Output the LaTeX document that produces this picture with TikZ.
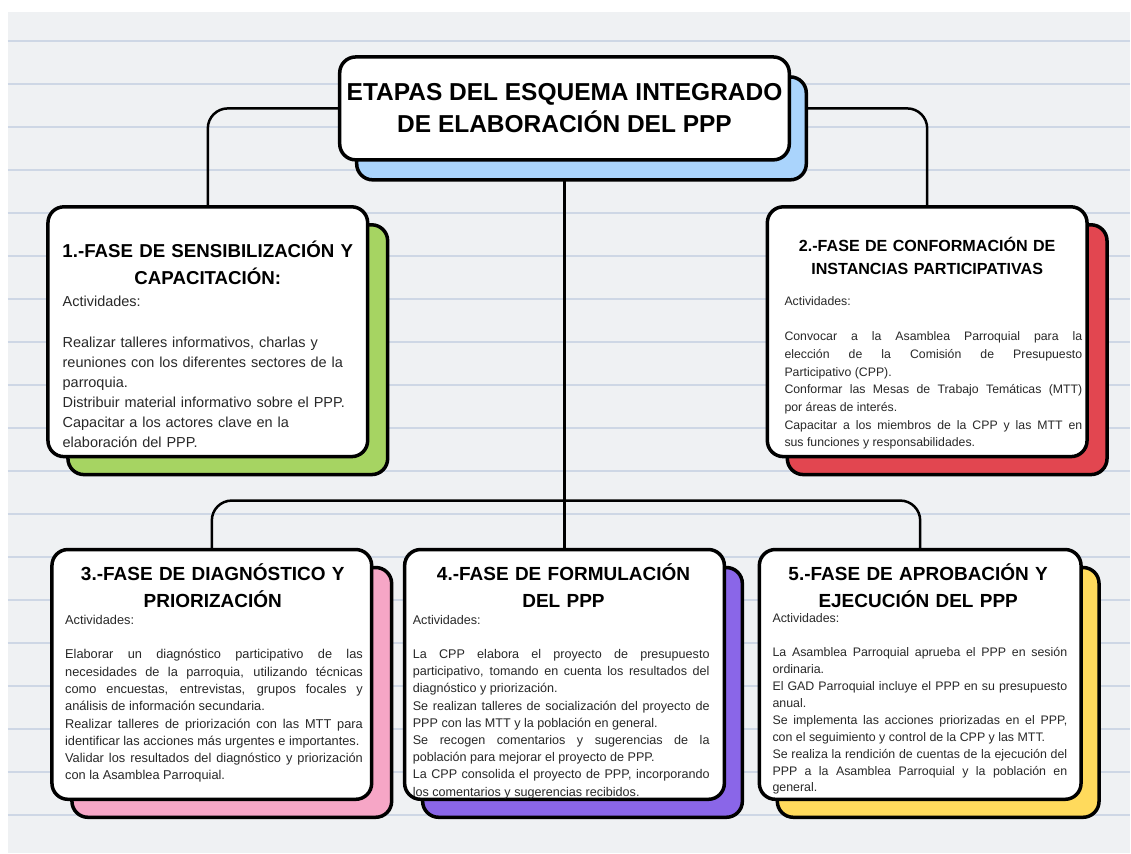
\documentclass[tikz,border=0pt]{standalone}
\usepackage{fontspec}
\setmainfont{Liberation Sans}
\usetikzlibrary{backgrounds}
\hyphenpenalty=10000
\exhyphenpenalty=10000
\tolerance=10000

\definecolor{paper}{RGB}{239,241,243}
\definecolor{ruling}{RGB}{206,215,229}
\definecolor{shblue}{RGB}{170,212,252}
\definecolor{shgreen}{RGB}{166,212,98}
\definecolor{shred}{RGB}{226,70,80}
\definecolor{shpink}{RGB}{246,166,198}
\definecolor{shpurple}{RGB}{138,102,232}
\definecolor{shyellow}{RGB}{255,218,92}
\definecolor{ink}{RGB}{40,40,40}

\begin{document}
\begin{tikzpicture}[x=1pt,y=-1pt,
  card/.style={draw=black,line width=3.5pt,rounded corners=16pt,fill=white,inner sep=0pt,minimum width=320pt,minimum height=250pt},
  back/.style={card,fill=#1},
  link/.style={draw=black,line width=2.5pt,rounded corners=20pt},
  head/.style={align=center,text width=312pt,inner sep=0pt,font=\bfseries\fontsize{19}{27}\selectfont},
  body/.style={anchor=north west,inner sep=0pt,text=ink,align=justify,text width=298pt,font=\fontsize{12.6}{17.2}\selectfont},
]

% paper
\begin{scope}[on background layer]
\fill[white] (0,0) rectangle (1131,854);
\fill[paper] (8,12) rectangle (1131,854);
\foreach \k in {0,...,18}
  \draw[ruling,line width=2pt] (8,{41.5+43*\k}) -- (1131,{41.5+43*\k});
\end{scope}

% title
\node[back=shblue,minimum width=450pt,minimum height=103pt] at (582,128.5) {};
\node[card,minimum width=450pt,minimum height=103pt,align=center,
  font=\bfseries\fontsize{24.5}{32}\selectfont] (title) at (565,108.5)
  {ETAPAS DEL ESQUEMA INTEGRADO\\DE ELABORACIÓN DEL PPP};

% phase cards
\node[back=shgreen] at (228,350) {};
\node[card] (b1) at (208,332) {};
\node[back=shred] at (948,350) {};
\node[card] (b2) at (928,332) {};
\node[back=shpink] at (232,693) {};
\node[card] (b3) at (212,675) {};
\node[back=shpurple] at (583,693) {};
\node[card] (b4) at (565,675) {};
\node[back=shyellow,minimum width=322pt] at (939,693) {};
\node[card,minimum width=322pt] (b5) at (921,675) {};

% connectors
\coordinate (bus) at (565,501);
\begin{scope}[on background layer]
\draw[link] (title.west) -| (b1.north);
\draw[link] (title.east) -| (b2.north);
\draw[link] (title.south) -- (b4.north);
\draw[link] (bus) -| (b3.north);
\draw[link] (bus) -| (b5.north);
\end{scope}

% headings
\node[head,font=\bfseries\fontsize{18.7}{27}\selectfont] (h1) at (208,263.5)
  {1.-FASE DE SENSIBILIZACIÓN Y\\CAPACITACIÓN:};
\node[head,font=\bfseries\fontsize{16.1}{22.5}\selectfont] (h2) at (928,256)
  {2.-FASE DE CONFORMACIÓN DE\\INSTANCIAS PARTICIPATIVAS};
\node[head] (h3) at (213,586.5) {3.-FASE DE DIAGNÓSTICO Y\\PRIORIZACIÓN};
\node[head] (h4) at (564,586.5) {4.-FASE DE FORMULACIÓN\\DEL PPP};
\node[head] (h5) at (919,586.5) {5.-FASE DE APROBACIÓN Y\\EJECUCIÓN DEL PPP};

% activities
\node[body,align=left,text width=300pt,font=\fontsize{14.5}{20.1}\selectfont] (t1) at (62.5,296.5)
  {Actividades:\\[\baselineskip]
   Realizar talleres informativos, charlas y\\
   reuniones con los diferentes sectores de la\\
   parroquia.\\
   Distribuir material informativo sobre el PPP.\\
   Capacitar a los actores clave en la\\
   elaboración del PPP.};
\node[body,font=\fontsize{12.3}{17.7}\selectfont] (t2) at (785,296.5)
  {Actividades:\\[\baselineskip]
   Convocar a la Asamblea Parroquial para la\linebreak
   elección de la Comisión de Presupuesto\linebreak
   Participativo (CPP).\\
   Conformar las Mesas de Trabajo Temáticas (MTT)\linebreak
   por áreas de interés.\\
   Capacitar a los miembros de la CPP y las MTT en\linebreak
   sus funciones y responsabilidades.};
\node[body,font=\fontsize{12.8}{17.3}\selectfont] (t3) at (65,615.4)
  {Actividades:\\[\baselineskip]
   Elaborar un diagnóstico participativo de las\linebreak
   necesidades de la parroquia, utilizando técnicas\linebreak
   como encuestas, entrevistas, grupos focales y\linebreak
   análisis de información secundaria.\\
   Realizar talleres de priorización con las MTT para\linebreak
   identificar las acciones más urgentes e importantes.\\
   Validar los resultados del diagnóstico y priorización\linebreak
   con la Asamblea Parroquial.};
\node[body,text width=297pt] (t4) at (413,615.4)
  {Actividades:\\[\baselineskip]
   La CPP elabora el proyecto de presupuesto\linebreak
   participativo, tomando en cuenta los resultados del\linebreak
   diagnóstico y priorización.\\
   Se realizan talleres de socialización del proyecto de\linebreak
   PPP con las MTT y la población en general.\\
   Se recogen comentarios y sugerencias de la\linebreak
   población para mejorar el proyecto de PPP.\\
   La CPP consolida el proyecto de PPP, incorporando\linebreak
   los comentarios y sugerencias recibidos.};
\node[body,text width=295pt,font=\fontsize{12.4}{17}\selectfont] (t5) at (773,613.5)
  {Actividades:\\[\baselineskip]
   La Asamblea Parroquial aprueba el PPP en sesión\linebreak
   ordinaria.\\
   El GAD Parroquial incluye el PPP en su presupuesto\linebreak
   anual.\\
   Se implementa las acciones priorizadas en el PPP,\linebreak
   con el seguimiento y control de la CPP y las MTT.\\
   Se realiza la rendición de cuentas de la ejecución del\linebreak
   PPP a la Asamblea Parroquial y la población en\linebreak
   general.};

\end{tikzpicture}
\end{document}
